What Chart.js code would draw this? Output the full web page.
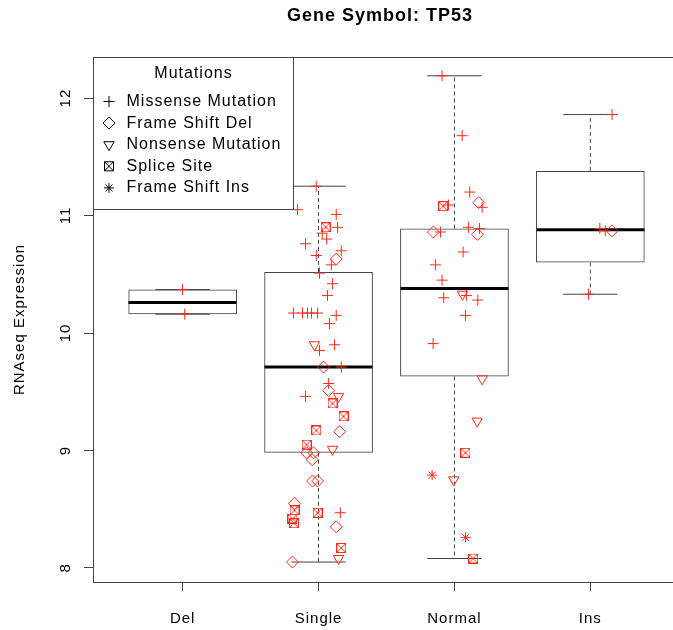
<!DOCTYPE html>
<html>
<head>
<meta charset="utf-8">
<script src="https://cdn.jsdelivr.net/npm/chart.js@4.4.0/dist/chart.umd.min.js"></script>
<style>
  html, body { margin: 0; padding: 0; background: #fff; overflow: hidden; }
  #wrap { width: 690px; height: 630px; }
</style>
</head>
<body>
<div id="wrap"><canvas id="chart"></canvas></div>
<script>
const categories = ["Del", "Single", "Normal", "Ins"];
const yTicks = [8, 9, 10, 11, 12];

// box stats per category
const boxQ1 = [10.16, 8.98, 9.63, 10.60];
const boxMedian = [10.26, 9.71, 10.38, 10.88];
const boxQ3 = [10.37, 10.52, 10.89, 11.38];
const whiskerLow = [10.16, 8.05, 8.08, 10.33];
const whiskerHigh = [10.37, 11.25, 12.19, 11.86];

const mutationTypes = ["Missense Mutation", "Frame Shift Del", "Nonsense Mutation", "Splice Site", "Frame Shift Ins"];

// jittered points (x = category position incl. jitter, y = expression)
const missenseX = [0.998, 1.015,
  1.983, 1.845, 2.13, 2.14, 2.06, 2.027, 1.904, 2.167, 1.983, 2.094, 2.007, 2.103, 2.066,
  1.816, 1.882, 1.919, 1.948, 1.993, 2.13, 2.08, 2.118, 2.007, 2.167, 2.074, 1.904, 2.16,
  2.909, 3.057, 3.113, 3.204, 2.956, 2.897, 3.103, 3.184, 3.064, 2.86, 2.909, 2.921, 3.088, 3.172, 3.081, 2.843,
  4.16, 4.07, 4.11, 3.987];
const missenseY = [10.37, 10.16,
  11.25, 11.05, 11.01, 10.90, 10.80, 10.85, 10.76, 10.70, 10.66, 10.58, 10.51, 10.42, 10.32,
  10.17, 10.17, 10.17, 10.17, 10.17, 10.15, 10.08, 9.90, 9.85, 9.71, 9.57, 9.46, 8.47,
  12.19, 11.68, 11.20, 11.07, 11.09, 10.86, 10.90, 10.89, 10.69, 10.58, 10.45, 10.30, 10.32, 10.28, 10.15, 9.91,
  11.86, 10.89, 10.87, 10.33];

const frameDelX = [2.13, 2.037, 2.074, 2.155, 1.912, 1.963, 1.954, 1.956, 1.993, 1.823, 2.13, 1.808,
  3.179, 2.845, 3.17, 4.16];
const frameDelY = [10.63, 9.71, 9.51, 9.16, 8.98, 8.98, 8.92, 8.74, 8.74, 8.55, 8.35, 8.05,
  11.11, 10.86, 10.84, 10.87];

const nonsenseX = [1.97, 2.147, 2.103, 2.147, 3.059, 3.204, 3.167, 2.995];
const nonsenseY = [9.90, 9.46, 9.01, 8.08, 10.33, 9.61, 9.25, 8.75];

const spliceX = [2.052, 2.103, 2.184, 1.983, 1.912, 1.823, 1.808, 1.819, 1.993, 2.167, 2.917, 3.081, 3.138];
const spliceY = [10.90, 9.40, 9.29, 9.17, 9.05, 8.49, 8.42, 8.38, 8.47, 8.17, 11.08, 8.98, 8.08];

const frameInsX = [2.836, 3.081];
const frameInsY = [8.79, 8.26];

const RED = "#ff2a1a";
const FONT = "Liberation Sans";
Chart.defaults.font.family = FONT;
Chart.defaults.color = "#000";

// square with an x inside (R pch 7)
function spliceSymbol() {
  const c = document.createElement("canvas");
  c.width = 10; c.height = 10;
  const g = c.getContext("2d");
  g.strokeStyle = RED;
  g.lineWidth = 1;
  g.strokeRect(0.5, 0.5, 9, 9);
  g.beginPath();
  g.moveTo(0.5, 0.5); g.lineTo(9.5, 9.5);
  g.moveTo(9.5, 0.5); g.lineTo(0.5, 9.5);
  g.stroke();
  return c;
}

const styles = [
  { pointStyle: "cross", radius: 5.5, rotation: 0 },
  { pointStyle: "rectRot", radius: 6, rotation: 0 },
  { pointStyle: "triangle", radius: 6, rotation: 180 },
  { pointStyle: spliceSymbol(), radius: 5, rotation: 0 },
  { pointStyle: "star", radius: 5, rotation: 0 },
];

const pointSets = [
  [missenseX, missenseY], [frameDelX, frameDelY], [nonsenseX, nonsenseY],
  [spliceX, spliceY], [frameInsX, frameInsY],
];

const scatterSets = pointSets.map(([xs, ys], k) => ({
  type: "scatter",
  label: mutationTypes[k],
  data: xs.map((x, i) => ({ x: x, y: ys[i] })),
  pointStyle: styles[k].pointStyle,
  pointRadius: styles[k].radius,
  pointRotation: styles[k].rotation,
  pointBorderColor: RED,
  pointBackgroundColor: "rgba(0,0,0,0)",
  pointBorderWidth: 1,
  order: 0,
}));

const boxSet = {
  type: "bar",
  label: "box",
  data: categories.map((c, i) => ({ x: i + 1, y: [boxQ1[i], boxQ3[i]] })),
  backgroundColor: "rgba(0,0,0,0)",
  borderColor: "#444",
  borderWidth: 1,
  borderSkipped: false,
  barPercentage: 0.8,
  categoryPercentage: 1,
  order: 10,
};

const boxParts = {
  id: "boxParts",
  beforeDatasetsDraw(chart) {
    const { ctx, scales: { x, y } } = chart;
    ctx.save();
    categories.forEach((c, i) => {
      const cx = x.getPixelForValue(i + 1);
      const capL = x.getPixelForValue(i + 0.8), capR = x.getPixelForValue(i + 1.2);
      // whiskers
      ctx.strokeStyle = "#444";
      ctx.lineWidth = 1;
      ctx.setLineDash([4, 3]);
      ctx.beginPath();
      ctx.moveTo(cx, y.getPixelForValue(boxQ3[i]));
      ctx.lineTo(cx, y.getPixelForValue(whiskerHigh[i]));
      ctx.moveTo(cx, y.getPixelForValue(boxQ1[i]));
      ctx.lineTo(cx, y.getPixelForValue(whiskerLow[i]));
      ctx.stroke();
      ctx.setLineDash([]);
      ctx.beginPath();
      ctx.moveTo(capL, y.getPixelForValue(whiskerHigh[i]));
      ctx.lineTo(capR, y.getPixelForValue(whiskerHigh[i]));
      ctx.moveTo(capL, y.getPixelForValue(whiskerLow[i]));
      ctx.lineTo(capR, y.getPixelForValue(whiskerLow[i]));
      ctx.stroke();
      // median
      ctx.strokeStyle = "#000";
      ctx.lineWidth = 3;
      ctx.beginPath();
      ctx.moveTo(x.getPixelForValue(i + 0.6), y.getPixelForValue(boxMedian[i]));
      ctx.lineTo(x.getPixelForValue(i + 1.4), y.getPixelForValue(boxMedian[i]));
      ctx.stroke();
    });
    ctx.restore();
  },
};

const decorations = {
  id: "decorations",
  beforeDraw(chart) {
    chart.ctx.letterSpacing = "1px";
  },
  afterDatasetsDraw(chart) {
    const { ctx, chartArea: a, scales: { y } } = chart;
    ctx.save();
    // frame
    ctx.strokeStyle = "#444";
    ctx.lineWidth = 1;
    ctx.strokeRect(Math.round(a.left) + 0.5, Math.round(a.top) + 0.5, a.right - a.left, a.bottom - a.top);

    // legend
    const lx = Math.round(a.left) + 0.5, ly = Math.round(a.top) + 0.5;
    ctx.fillStyle = "#fff";
    ctx.fillRect(lx, ly, 200, 152);
    ctx.strokeRect(lx, ly, 200, 152);
    ctx.fillStyle = "#000";
    ctx.font = "16px " + FONT;
    ctx.textBaseline = "middle";
    ctx.textAlign = "center";
    ctx.fillText("Mutations", lx + 100, ly + 16);
    ctx.textAlign = "left";
    mutationTypes.forEach((m, k) => {
      const yy = ly + 44 + k * 21.6;
      ctx.strokeStyle = "#000";
      ctx.fillStyle = "rgba(0,0,0,0)";
      ctx.lineWidth = 1;
      if (k === 3) {
        ctx.strokeRect(lx + 11, yy - 4.5, 9, 9);
        ctx.beginPath();
        ctx.moveTo(lx + 11, yy - 4.5); ctx.lineTo(lx + 20, yy + 4.5);
        ctx.moveTo(lx + 20, yy - 4.5); ctx.lineTo(lx + 11, yy + 4.5);
        ctx.stroke();
      } else {
        Chart.helpers.drawPoint(ctx, { pointStyle: styles[k].pointStyle, radius: styles[k].radius, rotation: styles[k].rotation, borderWidth: 1 }, lx + 15.5, yy);
      }
      ctx.fillStyle = "#000";
      ctx.fillText(m, lx + 33, yy);
    });

    // y tick labels, rotated like R
    ctx.font = "15px " + FONT;
    ctx.textAlign = "center";
    ctx.textBaseline = "middle";
    y.ticks.forEach(t => {
      ctx.save();
      ctx.translate(66, y.getPixelForValue(t.value));
      ctx.rotate(-Math.PI / 2);
      ctx.fillText(String(t.value), 0, 0);
      ctx.restore();
    });

    // main title
    ctx.font = "bold 18px " + FONT;
    ctx.fillText("Gene Symbol: TP53", 380, 16);
    ctx.restore();
  },
};

new Chart(document.getElementById("chart"), {
  type: "scatter",
  data: { datasets: [...scatterSets, boxSet] },
  options: {
    responsive: true,
    maintainAspectRatio: false,
    animation: false,
    devicePixelRatio: 1,
    layout: { padding: { top: 57, right: 10, bottom: 0, left: 0 } },
    plugins: { legend: { display: false }, tooltip: { enabled: false } },
    scales: {
      x: {
        type: "linear",
        offset: false,
        min: 0.34,
        max: 4.66,
        afterBuildTicks: s => { s.ticks = categories.map((c, i) => ({ value: i + 1 })); },
        afterFit: s => { s.height = 48; },
        ticks: {
          callback: (v, i) => categories[i],
          font: { size: 15 },
          color: "#000",
          padding: 19,
          maxRotation: 0,
          autoSkip: false,
        },
        grid: { drawOnChartArea: false, offset: false, tickLength: 9, color: "#444" },
        border: { color: "#444" },
      },
      y: {
        min: 7.88,
        max: 12.35,
        afterBuildTicks: s => { s.ticks = yTicks.map(v => ({ value: v })); },
        afterFit: s => { s.width = 93; },
        ticks: { display: false },
        grid: { drawOnChartArea: false, tickLength: 9, color: "#444" },
        border: { color: "#444" },
        title: {
          display: true,
          text: "RNAseq Expression",
          font: { size: 15 },
          color: "#000",
          padding: { top: 11, bottom: 0 },
        },
      },
    },
  },
  plugins: [boxParts, decorations],
});
</script>
</body>
</html>
